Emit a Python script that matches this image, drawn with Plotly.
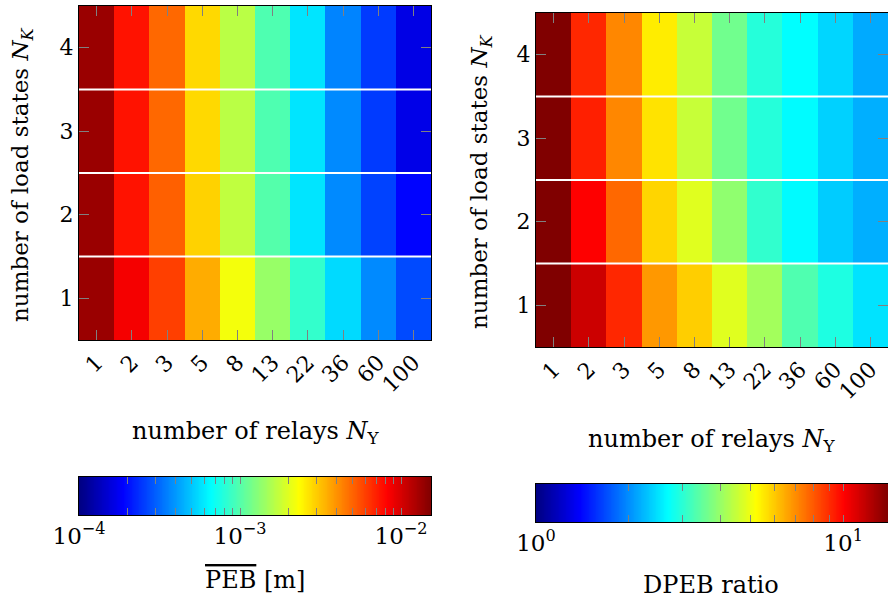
import numpy as np
import plotly.graph_objects as go

# ---- data -------------------------------------------------------------
relays = ["1", "2", "3", "5", "8", "13", "22", "36", "60", "100"]
load_states = [1, 2, 3, 4]

# mean PEB [m], one list per number of load states
peb_k1 = [0.0135, 0.0086, 0.0060, 0.0035, 0.0022, 0.0014, 0.00085, 0.00055, 0.00037, 0.00027]
peb_k2 = [0.0135, 0.0075, 0.0051, 0.0029, 0.0017, 0.0010, 0.00058, 0.00037, 0.00026, 0.00019]
peb_k3 = [0.0135, 0.0075, 0.0049, 0.0028, 0.00165, 0.00097, 0.00058, 0.00037, 0.00025, 0.000167]
peb_k4 = [0.0135, 0.0075, 0.0049, 0.0028, 0.00165, 0.00097, 0.00058, 0.00036, 0.00025, 0.000165]

# DPEB ratio, one list per number of load states
ratio_k1 = [14.0, 11.5, 9.1, 6.8, 5.9, 4.8, 4.1, 3.3, 2.9, 2.5]
ratio_k2 = [14.0, 10.1, 7.7, 5.8, 4.8, 3.9, 3.05, 2.66, 2.36, 2.19]
ratio_k3 = [14.0, 9.3, 7.1, 5.6, 4.5, 3.6, 2.96, 2.67, 2.39, 2.19]
ratio_k4 = [14.0, 9.1, 7.1, 5.45, 4.5, 3.6, 2.96, 2.69, 2.42, 2.16]

# colour limits
peb_min, peb_max = 1e-4, 0.01535
ratio_min, ratio_max = 1.0, 14.0

# ---- styling ----------------------------------------------------------
W, H = 888, 603
FONT = "DejaVu Serif"
FS_TICK = 22
FS_TITLE = 24
TICK_GRAY = "#808080"

jet = [[0.0, "rgb(0,0,128)"], [0.125, "rgb(0,0,255)"], [0.375, "rgb(0,255,255)"],
       [0.625, "rgb(255,255,0)"], [0.875, "rgb(255,0,0)"], [1.0, "rgb(128,0,0)"]]


def px_x(x):
    return x / W


def px_y(y):
    return 1 - y / H


peb = np.log10(np.array([peb_k1, peb_k2, peb_k3, peb_k4]))
ratio = np.log10(np.array([ratio_k1, ratio_k2, ratio_k3, ratio_k4]))

fig = go.Figure()

fig.add_trace(go.Heatmap(x=relays, y=load_states, z=peb, colorscale=jet,
                         zmin=np.log10(peb_min), zmax=np.log10(peb_max),
                         showscale=False, xaxis="x", yaxis="y", hoverinfo="skip"))
fig.add_trace(go.Heatmap(x=relays, y=load_states, z=ratio, colorscale=jet,
                         zmin=np.log10(ratio_min), zmax=np.log10(ratio_max),
                         showscale=False, xaxis="x2", yaxis="y2", hoverinfo="skip"))

# colour bars drawn as gradient strips on their own log-unit axes
for lo, hi, xa, ya in [(peb_min, peb_max, "x3", "y3"), (ratio_min, ratio_max, "x4", "y4")]:
    g = np.linspace(np.log10(lo), np.log10(hi), 400)
    fig.add_trace(go.Heatmap(x=g, y=[0, 1], z=[g, g], colorscale=jet,
                             zmin=g[0], zmax=g[-1], showscale=False,
                             xaxis=xa, yaxis=ya, hoverinfo="skip"))

common_axis = dict(showline=True, linecolor="black", linewidth=1, mirror="ticks",
                   ticks="inside", tickcolor=TICK_GRAY, tickwidth=1,
                   showgrid=False, zeroline=False, automargin=False,
                   tickfont=dict(family=FONT, size=FS_TICK, color="black"))

heat_x = dict(common_axis, type="category", tickangle=-45, ticklen=10,
              range=[-0.5, len(relays) - 0.5])
heat_y = dict(common_axis, tickvals=load_states, ticklen=10,
              range=[load_states[0] - 0.5, load_states[-1] + 0.5])


def log_ticks(lo, hi):
    major, minor = [], []
    for e in range(int(np.floor(np.log10(lo))), int(np.ceil(np.log10(hi))) + 1):
        for m in range(1, 10):
            v = m * 10.0 ** e
            if lo * 0.999 <= v <= hi * 1.001:
                (major if m == 1 else minor).append(np.log10(v))
    return major, minor


def sup_label(v):
    e = int(round(v))
    return "10<sup>%s</sup>" % (str(e).replace("-", "\u2212"))


cb_axes = {}
for name, lo, hi in [("xaxis3", peb_min, peb_max), ("xaxis4", ratio_min, ratio_max)]:
    major, minor = log_ticks(lo, hi)
    cb_axes[name] = dict(common_axis, range=[np.log10(lo), np.log10(hi)],
                         tickvals=major, ticktext=[sup_label(v) for v in major],
                         ticklen=7, tickfont=dict(family=FONT, size=23, color="black"),
                         minor=dict(tickvals=minor, ticks="inside", ticklen=7,
                                    tickcolor=TICK_GRAY, showgrid=False))

cb_y = dict(showline=True, linecolor="black", linewidth=1, mirror=True, range=[0, 1],
            showticklabels=False, ticks="", showgrid=False, zeroline=False,
            automargin=False)

fig.update_layout(
    width=W, height=H, margin=dict(l=0, r=0, t=0, b=0, autoexpand=False),
    paper_bgcolor="white", plot_bgcolor="white", showlegend=False,
    font=dict(family=FONT, size=FS_TICK, color="black"),
    xaxis=dict(heat_x, domain=[px_x(79), px_x(431)], anchor="y"),
    yaxis=dict(heat_y, domain=[px_y(340), px_y(6)], anchor="x"),
    xaxis2=dict(heat_x, domain=[px_x(536), px_x(888)], anchor="y2"),
    yaxis2=dict(heat_y, domain=[px_y(347), px_y(13)], anchor="x2"),
    xaxis3=dict(cb_axes["xaxis3"], domain=[px_x(79), px_x(431)], anchor="y3"),
    yaxis3=dict(cb_y, domain=[px_y(515), px_y(477)], anchor="x3"),
    xaxis4=dict(cb_axes["xaxis4"], domain=[px_x(536), px_x(888)], anchor="y4"),
    yaxis4=dict(cb_y, domain=[px_y(522), px_y(484)], anchor="x4"),
)

# white separators between load-state rows
for xr, yr in [("x domain", "y"), ("x2 domain", "y2")]:
    for k in load_states[:-1]:
        fig.add_shape(type="line", xref=xr, yref=yr, x0=0, x1=1, y0=k + 0.5, y1=k + 0.5,
                      line=dict(color="white", width=2))

titles = [
    ("number of load states <i>N</i><sub><i>K</i></sub>", 22, 175, -90, 23),
    ("number of load states <i>N</i><sub><i>K</i></sub>", 481, 181, -90, 23),
    ("number of relays <i>N</i><sub>Y</sub>", 255, 433, 0, FS_TITLE),
    ("number of relays <i>N</i><sub>Y</sub>", 711, 440, 0, FS_TITLE),
    ("<span style=\"text-decoration:overline\">PEB</span> [m]", 255, 580, 0, FS_TITLE),
    ("DPEB ratio", 711, 585, 0, FS_TITLE),
]
for text, x, y, ang, fs in titles:
    fig.add_annotation(text=text, x=px_x(x), y=px_y(y), xref="paper", yref="paper",
                       xanchor="center", yanchor="middle", textangle=ang, showarrow=False,
                       font=dict(family=FONT, size=fs, color="black"))

fig.write_html("out.html")
